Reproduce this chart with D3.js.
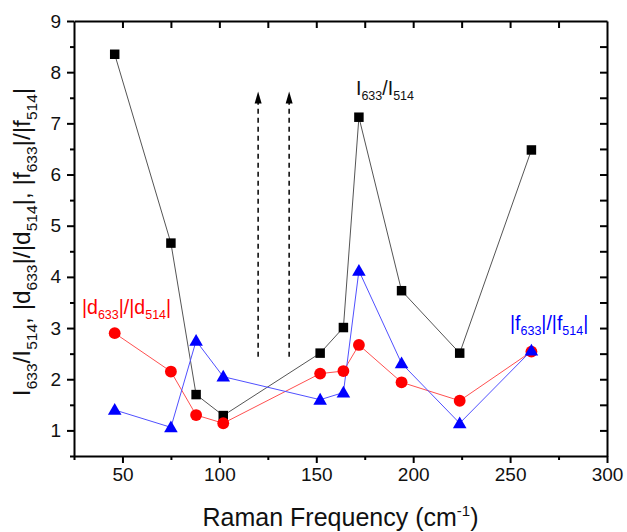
<!DOCTYPE html>
<html>
<head>
<meta charset="utf-8">
<script src="https://cdn.jsdelivr.net/npm/d3@7"></script>
<style>
  body { margin: 0; background: #fff; }
  svg { font-family: Arial, "Liberation Sans", sans-serif; }
</style>
</head>
<body>
<svg id="chart" width="627" height="532"></svg>
<script>
// Raman frequencies (cm-1)
const freq = [46, 75, 88, 102, 152, 164, 172, 194, 224, 261];
// I633/I514
const ratioI = [8.35, 4.66, 1.70, 1.29, 2.51, 3.01, 7.12, 3.73, 2.51, 6.48];
// |d633|/|d514|
const ratioD = [2.90, 2.15, 1.30, 1.14, 2.11, 2.16, 2.67, 1.94, 1.58, 2.54];
// |f633|/|f514|
const ratioF = [1.40, 1.06, 2.75, 2.05, 1.60, 1.74, 4.12, 2.31, 1.14, 2.56];

const xTicks = [50, 100, 150, 200, 250, 300];
const yTicks = [1, 2, 3, 4, 5, 6, 7, 8, 9];
// dashed arrows: x position, from y, to y
const arrowX = [120, 136];
const arrowY = [2.44, 7.62];

const svg = d3.select("#chart");
const pL = 74, pR = 607, pT = 21, pB = 456;

const x = d3.scaleLinear().domain([25, 300]).range([pL, pR]);
const y = d3.scaleLinear().domain([0.5, 9]).range([pB, pT]);

const minorX = d3.range(25, 300, 50); // 25, 75, ...
const minorY = d3.range(0.5, 9, 1);

// axes
function styleAxis(g) {
  g.select(".domain").attr("stroke", "#000").attr("stroke-width", 2);
  g.selectAll(".tick line").attr("stroke", "#000").attr("stroke-width", 2);
  g.selectAll(".tick text").attr("font-size", 19).attr("fill", "#111")
    .attr("font-family", "Arial, 'Liberation Sans', sans-serif");
}

svg.append("g")
  .attr("transform", `translate(0,${pB})`)
  .call(d3.axisBottom(x).tickValues(xTicks).tickSize(7).tickSizeOuter(0).tickPadding(5))
  .call(styleAxis);
svg.append("g")
  .attr("transform", `translate(0,${pB})`)
  .call(d3.axisBottom(x).tickValues(minorX).tickSize(4).tickFormat(""))
  .call(g => g.select(".domain").remove())
  .call(styleAxis);

svg.append("g")
  .attr("transform", `translate(${pL},0)`)
  .call(d3.axisLeft(y).tickValues(yTicks).tickSize(7).tickSizeOuter(0).tickPadding(6))
  .call(styleAxis);
svg.append("g")
  .attr("transform", `translate(${pL},0)`)
  .call(d3.axisLeft(y).tickValues(minorY).tickSize(4).tickFormat(""))
  .call(g => g.select(".domain").remove())
  .call(styleAxis);

svg.append("g")
  .attr("transform", `translate(0,${pT})`)
  .call(d3.axisBottom(x).tickValues(d3.range(50, 300, 25)).tickSize(7).tickSizeOuter(0).tickFormat(""))
  .call(styleAxis);
svg.append("g")
  .attr("transform", `translate(${pR},0)`)
  .call(d3.axisLeft(y).tickValues(d3.range(1, 9, 0.5)).tickSize(7).tickSizeOuter(0).tickFormat(""))
  .call(styleAxis);

// axis titles
svg.append("text")
  .attr("x", (pL + pR) / 2).attr("y", 526)
  .attr("text-anchor", "middle").attr("font-size", 25).attr("fill", "#111")
  .call(t => {
    t.append("tspan").text("Raman Frequency (cm");
    t.append("tspan").attr("dy", -10).attr("font-size", 15).text("-1");
    t.append("tspan").attr("dy", 10).text(")");
  });

// text with subscripts; the baseline is moved back on the next normal part
function subLabel(t, parts, size, subSize, shift) {
  let down = false;
  parts.forEach(p => {
    if (p.sub) {
      t.append("tspan").attr("font-size", subSize).attr("dy", down ? 0 : shift).text(p.sub);
      down = true;
    } else {
      t.append("tspan").attr("font-size", size).attr("dy", down ? -shift : 0).text(p.t);
      down = false;
    }
  });
}

const yLabel = svg.append("text")
  .attr("transform", "translate(30,242) rotate(-90)")
  .attr("text-anchor", "middle").attr("fill", "#111");
subLabel(yLabel, [
  {t: "I"}, {sub: "633"}, {t: "/I"}, {sub: "514"}, {t: ", |d"}, {sub: "633"},
  {t: "|/|d"}, {sub: "514"}, {t: "|, |f"}, {sub: "633"}, {t: "|/|f"}, {sub: "514"}, {t: "|"}
], 24.5, 15.5, 7);

// series
const series = [
  {vals: ratioI, line: "#555", fill: "#000", shape: d3.symbolSquare, size: 90},
  {vals: ratioD, line: "#ff5050", fill: "#ff0000", shape: d3.symbolCircle, size: 110},
  {vals: ratioF, line: "#5050ff", fill: "#0000ff", shape: d3.symbolTriangle, size: 80}
];

const line = d3.line().x(d => x(d[0])).y(d => y(d[1]));

series.forEach(s => {
  const pts = freq.map((f, i) => [f, s.vals[i]]);
  svg.append("path")
    .attr("d", line(pts))
    .attr("fill", "none").attr("stroke", s.line).attr("stroke-width", 1);
});
series.forEach(s => {
  const pts = freq.map((f, i) => [f, s.vals[i]]);
  svg.selectAll(null).data(pts).enter().append("path")
    .attr("transform", d => `translate(${x(d[0])},${y(d[1]) + (s.shape === d3.symbolTriangle ? 1 : 0)})`)
    .attr("d", d3.symbol().type(s.shape).size(s.size))
    .attr("fill", s.fill);
});

// dashed arrows
arrowX.forEach(ax => {
  svg.append("line")
    .attr("x1", x(ax)).attr("x2", x(ax))
    .attr("y1", y(arrowY[0])).attr("y2", y(arrowY[1]) + 10)
    .attr("stroke", "#000").attr("stroke-width", 1.5)
    .attr("stroke-dasharray", "5,4");
  svg.append("path")
    .attr("d", `M${x(ax)},${y(arrowY[1])} L${x(ax) - 3.5},${y(arrowY[1]) + 12} L${x(ax) + 3.5},${y(arrowY[1]) + 12} Z`)
    .attr("fill", "#000");
});

// annotations
const annI = svg.append("text").attr("x", 356).attr("y", 95).attr("fill", "#111");
subLabel(annI, [{t: "I"}, {sub: "633"}, {t: "/I"}, {sub: "514"}], 19.5, 12.5, 5);

const annD = svg.append("text").attr("x", 82).attr("y", 314).attr("fill", "#ff0000");
subLabel(annD, [{t: "|d"}, {sub: "633"}, {t: "|/|d"}, {sub: "514"}, {t: "|"}], 19.5, 12.5, 5);

const annF = svg.append("text").attr("x", 510).attr("y", 330).attr("fill", "#0000ff");
subLabel(annF, [{t: "|f"}, {sub: "633"}, {t: "|/|f"}, {sub: "514"}, {t: "|"}], 19.5, 12.5, 5);
</script>
</body>
</html>
